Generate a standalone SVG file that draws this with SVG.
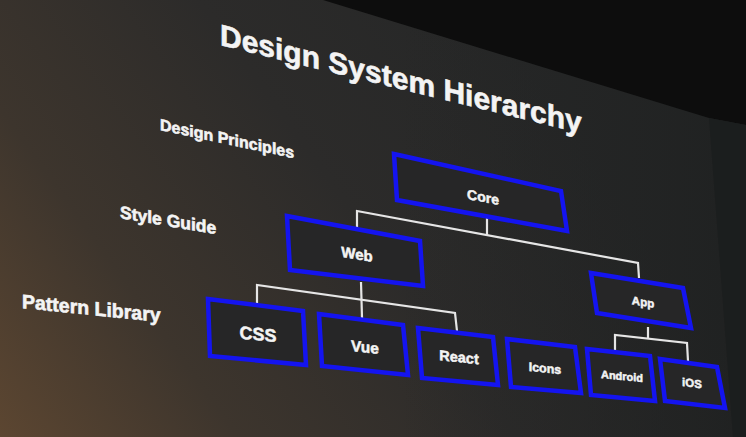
<svg xmlns="http://www.w3.org/2000/svg" width="746" height="437" viewBox="0 0 746 437">
  <defs>
    <linearGradient id="bg" gradientUnits="userSpaceOnUse" x1="0" y1="437" x2="520" y2="60">
      <stop offset="0" stop-color="#5c4631"/>
      <stop offset="0.3" stop-color="#3d352d"/>
      <stop offset="0.65" stop-color="#2c2b2a"/>
      <stop offset="1" stop-color="#262727"/>
    </linearGradient>
    <linearGradient id="bgR" gradientUnits="userSpaceOnUse" x1="400" y1="0" x2="746" y2="0">
      <stop offset="0" stop-color="#232424" stop-opacity="0"/>
      <stop offset="1" stop-color="#1e2020" stop-opacity="0.8"/>
    </linearGradient>
    <style>
      .node polygon { fill: #262627; stroke: #1414f0; stroke-width: 4.5; stroke-linejoin: miter; }
      .lbl { font-family: "Liberation Sans", Arial, sans-serif; font-weight: bold; fill: #f4f4f4; stroke: #f4f4f4; stroke-width: 0.5; text-anchor: middle; }
      .side { font-family: "Liberation Sans", Arial, sans-serif; font-weight: bold; fill: #f4f4f4; stroke: #f4f4f4; stroke-width: 0.6; }
      .conn polyline, .conn line { fill: none; stroke: #e6e6e6; stroke-width: 2.2; }
    </style>
  </defs>

  <!-- background -->
  <rect x="0" y="0" width="746" height="437" fill="url(#bg)"/>
  <rect x="0" y="0" width="746" height="437" fill="url(#bgR)"/>
  <polygon points="323,0 746,0 746,125 709,118" fill="#0d0d0d"/>
  <polygon points="709,118 746,125 746,437 733,437" fill="#1b1e1e"/>

  <!-- title and level labels -->
  <text class="side" font-size="30" transform="translate(220,45) skewY(13.7)">Design System Hierarchy</text>
  <text class="side" font-size="16" transform="translate(160,130) skewY(11.9)">Design Principles</text>
  <text class="side" font-size="17.5" transform="translate(120,218) skewY(9.6)">Style Guide</text>
  <text class="side" font-size="19.5" transform="translate(22,308) skewY(5.7)">Pattern Library</text>

  <!-- connectors -->
  <g id="connectors" class="conn">
    <line x1="487" y1="218" x2="487" y2="236"/>
    <polyline points="357,228 357,211 638,263 639,278"/>
    <line x1="361" y1="282" x2="362" y2="318"/>
    <polyline points="257,304 257,285 455,313 457,331"/>
    <line x1="648" y1="327" x2="648" y2="339"/>
    <polyline points="615,352 615,335 687,343 688,361"/>
  </g>

  <!-- nodes -->
  <g id="core" class="node">
    <polygon points="394,154 561,191 567,231 397,200"/>
    <text class="lbl" font-size="14" transform="translate(483,197) skewY(11.1)" y="5">Core</text>
  </g>
  <g id="web" class="node">
    <polygon points="287,216 420,241 423,286 290,270"/>
    <text class="lbl" font-size="15" transform="translate(357,254) skewY(8.5)" y="5.4">Web</text>
  </g>
  <g id="app" class="node">
    <polygon points="591,273 683,288 691,328 597,313"/>
    <text class="lbl" font-size="11.5" transform="translate(643,302) skewY(8.8)" y="4">App</text>
  </g>
  <g id="css" class="node">
    <polygon points="208,299 303,311 306,365 210,356"/>
    <text class="lbl" font-size="18" transform="translate(258,334) skewY(6)" y="6.4">CSS</text>
  </g>
  <g id="vue" class="node">
    <polygon points="319,314 403,325 408,375 322,366"/>
    <text class="lbl" font-size="15.5" transform="translate(365,347) skewY(6.4)" y="5.5">Vue</text>
  </g>
  <g id="react" class="node">
    <polygon points="418,328 493,337 498,385 422,378"/>
    <text class="lbl" font-size="14.5" transform="translate(459,357) skewY(5.8)" y="5.2">React</text>
  </g>
  <g id="icons" class="node">
    <polygon points="507,339 575,347 581,393 511,387"/>
    <text class="lbl" font-size="12.5" transform="translate(545,368) skewY(5.4)" y="4.5">Icons</text>
  </g>
  <g id="android" class="node">
    <polygon points="587,349 650,356 655,401 591,395"/>
    <text class="lbl" font-size="11" transform="translate(622,376) skewY(5.5)" y="4">Android</text>
  </g>
  <g id="ios" class="node">
    <polygon points="660,359 717,367 725,408 665,401"/>
    <text class="lbl" font-size="11.5" transform="translate(692,383) skewY(6.9)" y="4.1">iOS</text>
  </g>
</svg>
